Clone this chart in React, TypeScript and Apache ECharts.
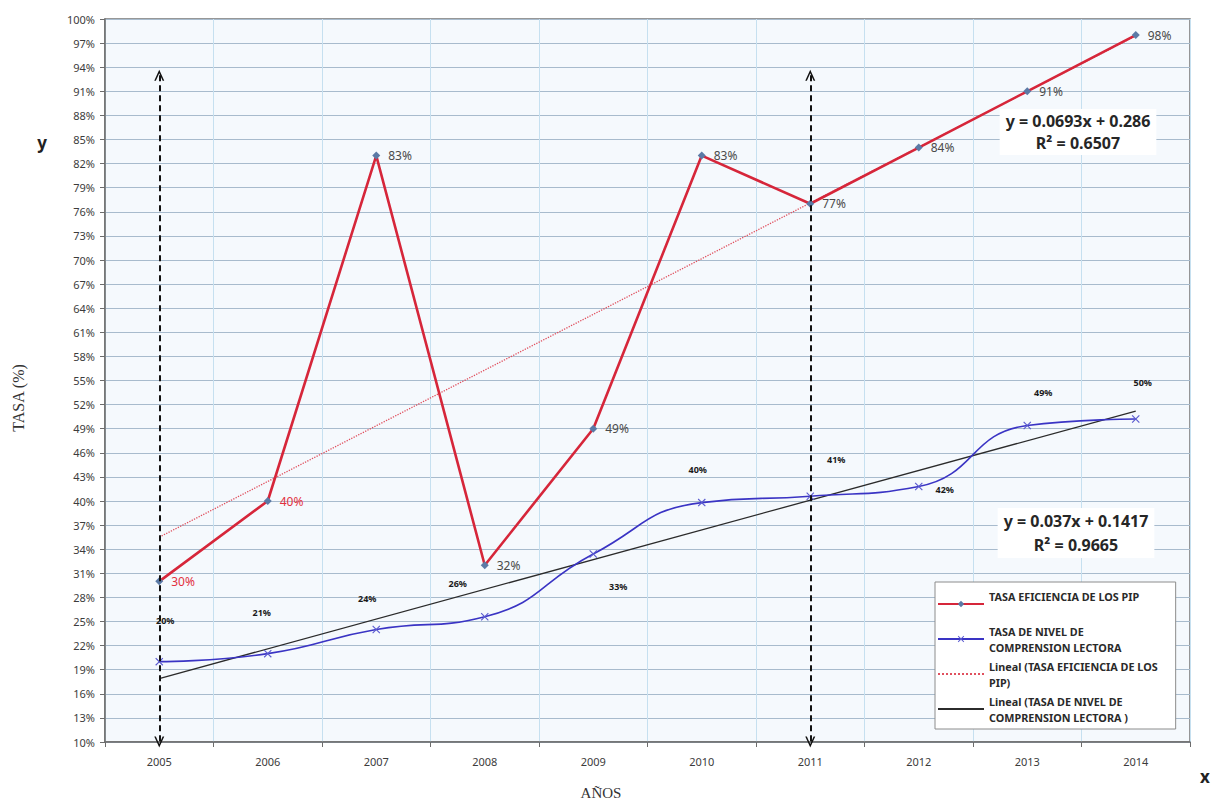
import React, { useEffect, useRef } from "react";
import * as echarts from "echarts";

// ---------- data ----------
const years = ["2005", "2006", "2007", "2008", "2009", "2010", "2011", "2012", "2013", "2014"];
const eficienciaPIP = [30, 40, 83, 32, 49, 83, 77, 84, 91, 98];
const comprensionLectora = [20, 21, 24, 25.6, 33.4, 39.8, 40.6, 41.8, 49.4, 50.2];
const trendEficiencia = [35.5, null, null, null, null, null, null, null, null, 97.9];
const trendComprension = [17.9, null, null, null, null, null, null, null, null, 51.2];
const yMin = 10;
const yMax = 100;
const yStep = 3;
const arrowYears = ["2005", "2011"];
const arrowTopValue = 93;
const eqEficiencia = ["y = 0.0693x + 0.286", "R² = 0.6507"];
const eqComprension = ["y = 0.037x + 0.1417", "R² = 0.9665"];
const seriesNames = [
  "TASA EFICIENCIA DE LOS PIP",
  "TASA DE NIVEL DE COMPRENSION LECTORA",
  "Lineal (TASA EFICIENCIA DE LOS PIP)",
  "Lineal (TASA DE NIVEL DE COMPRENSION LECTORA )",
];
const legendWrapped: Record<string, string> = {
  [seriesNames[0]]: "TASA EFICIENCIA DE LOS PIP\n",
  [seriesNames[1]]: "TASA DE NIVEL DE\nCOMPRENSION LECTORA",
  [seriesNames[2]]: "Lineal (TASA EFICIENCIA DE LOS\nPIP)",
  [seriesNames[3]]: "Lineal (TASA DE NIVEL DE\nCOMPRENSION LECTORA )",
};

// label placement (styling only)
const comprensionLabelOffsets = [
  [6, -41], [-6, -41], [-9, -31], [-27, -33], [25, 32],
  [-4, -33], [26, -37], [26, 3], [16, -33], [7, -37],
];
const eficienciaRedLabelIdx = [0, 1];

const FONT = "'Noto Sans', 'DejaVu Sans', sans-serif";
const SERIF = "'Liberation Serif', 'DejaVu Serif', serif";

const chevron = "path://M0,10 L5,0 L10,10 L8.4,10 L5,3.2 L1.6,10 Z";
const xMark = "path://M0,1 L1,0 L5,4 L9,0 L10,1 L6,5 L10,9 L9,10 L5,6 L1,10 L0,9 L4,5 Z";
const transparent = "rgba(0,0,0,0)";

export default function App() {
  const ref = useRef<HTMLDivElement>(null);

  useEffect(() => {
    if (!ref.current) return;
    const chart = echarts.init(ref.current, undefined, { renderer: "svg" });

    const option: any = {
      animation: false,
      backgroundColor: "#ffffff",
      textStyle: { fontFamily: FONT },
      grid: {
        left: 105,
        right: 25,
        top: 19,
        bottom: 60,
        show: true,
        backgroundColor: "#f5f9fd",
        borderColor: "#767676",
        borderWidth: 1.5,
      },
      legend: {
        orient: "vertical",
        left: 935,
        top: 582,
        itemWidth: 46,
        itemHeight: 8,
        itemGap: 3,
        padding: [6, 18, 4, 2],
        backgroundColor: "#ffffff",
        borderColor: "#8c8c8c",
        borderWidth: 1,
        data: seriesNames,
        formatter: (n: string) => legendWrapped[n] || n,
        textStyle: {
          fontFamily: FONT,
          fontSize: 10.8,
          fontWeight: "bold",
          color: "#2a2a2a",
          lineHeight: 16,
        },
      },
      xAxis: {
        type: "category",
        data: years,
        boundaryGap: true,
        axisLine: { lineStyle: { color: "#6c6c6c", width: 1.5 } },
        axisTick: { show: true, length: 5, lineStyle: { color: "#6c6c6c" } },
        axisLabel: { color: "#3c3c3c", fontSize: 11, margin: 14, fontFamily: FONT },
        splitLine: { show: true, lineStyle: { color: "#c6e0f0", width: 1 } },
      },
      yAxis: {
        type: "value",
        min: yMin,
        max: yMax,
        interval: yStep,
        axisLine: { show: true, lineStyle: { color: "#6c6c6c", width: 1.5 } },
        axisTick: { show: true, length: 5, lineStyle: { color: "#6c6c6c" } },
        axisLabel: {
          formatter: "{value}%",
          color: "#3c3c3c",
          fontSize: 11,
          margin: 10,
          fontFamily: FONT,
        },
        splitLine: { show: true, lineStyle: { color: "#a8bbcd", width: 1 } },
      },
      series: [
        {
          name: seriesNames[2],
          type: "line",
          data: trendEficiencia,
          connectNulls: true,
          symbol: "circle",
          showSymbol: false,
          z: 2,
          lineStyle: { color: "#e0505e", width: 1.3, type: "dotted" },
          itemStyle: { color: transparent },
        },
        {
          name: seriesNames[3],
          type: "line",
          data: trendComprension,
          connectNulls: true,
          symbol: "circle",
          showSymbol: false,
          z: 2,
          lineStyle: { color: "#2b2b2b", width: 1.3 },
          itemStyle: { color: transparent },
          markLine: {
            silent: true,
            symbol: [chevron, chevron],
            symbolSize: [10, 11],
            label: { show: false },
            lineStyle: { color: "#111111", width: 2, type: [6, 4] },
            data: arrowYears.map((yr) => [
              { xAxis: yr, yAxis: arrowTopValue },
              { xAxis: yr, yAxis: yMin },
            ]),
          },
        },
        {
          name: seriesNames[1],
          type: "line",
          data: comprensionLectora.map((v, i) => ({
            value: v,
            label: { offset: comprensionLabelOffsets[i] },
          })),
          smooth: 0.5,
          symbol: xMark,
          symbolSize: 8,
          z: 3,
          lineStyle: { color: "#3a34c4", width: 1.6 },
          itemStyle: { color: "#5b5bd0" },
          label: {
            show: true,
            position: "inside",
            formatter: (p: any) => Math.round(p.value) + "%",
            fontSize: 9,
            fontWeight: "bold",
            color: "#1a1a1a",
            fontFamily: FONT,
          },
        },
        {
          name: seriesNames[0],
          type: "line",
          data: eficienciaPIP.map((v, i) =>
            eficienciaRedLabelIdx.includes(i)
              ? { value: v, label: { color: "#e2303e" } }
              : { value: v }
          ),
          symbol: "diamond",
          symbolSize: 8,
          z: 4,
          lineStyle: { color: "#d6263a", width: 2.6 },
          itemStyle: { color: "#5b7aa6" },
          label: {
            show: true,
            position: "right",
            distance: 8,
            formatter: (p: any) => p.value + "%",
            fontSize: 12,
            color: "#4a4a4a",
            fontFamily: FONT,
          },
        },
      ],
      graphic: [
        {
          type: "text",
          x: 1078,
          y: 109,
          z: 100,
          style: {
            text: eqEficiencia.join("\n"),
            textAlign: "center",
            textVerticalAlign: "top",
            font: `bold 16px ${FONT}`,
            lineHeight: 22,
            fill: "#262626",
            backgroundColor: "#ffffff",
            padding: [1, 6, 1, 6],
          },
        },
        {
          type: "text",
          x: 1076,
          y: 508,
          z: 100,
          style: {
            text: eqComprension.join("\n"),
            textAlign: "center",
            textVerticalAlign: "top",
            font: `bold 16px ${FONT}`,
            lineHeight: 24,
            fill: "#262626",
            backgroundColor: "#ffffff",
            padding: [1, 6, 1, 6],
          },
        },
        {
          type: "text",
          x: 18,
          y: 398,
          rotation: Math.PI / 2,
          style: {
            text: "TASA (%)",
            textAlign: "center",
            textVerticalAlign: "middle",
            font: `16px ${SERIF}`,
            fill: "#333333",
          },
        },
        {
          type: "text",
          x: 601,
          y: 793,
          style: {
            text: "AÑOS",
            textAlign: "center",
            textVerticalAlign: "middle",
            font: `15px ${SERIF}`,
            fill: "#333333",
          },
        },
        {
          type: "text",
          x: 42,
          y: 142,
          style: {
            text: "y",
            textAlign: "center",
            textVerticalAlign: "middle",
            font: `bold 17px ${FONT}`,
            fill: "#222222",
          },
        },
        {
          type: "text",
          x: 1205,
          y: 776,
          style: {
            text: "x",
            textAlign: "center",
            textVerticalAlign: "middle",
            font: `bold 17px ${FONT}`,
            fill: "#222222",
          },
        },
      ],
    };

    chart.setOption(option);
    return () => chart.dispose();
  }, []);

  return (
    <div
      ref={ref}
      style={{ position: "fixed", left: 0, top: 0, width: 1215, height: 802 }}
    />
  );
}
